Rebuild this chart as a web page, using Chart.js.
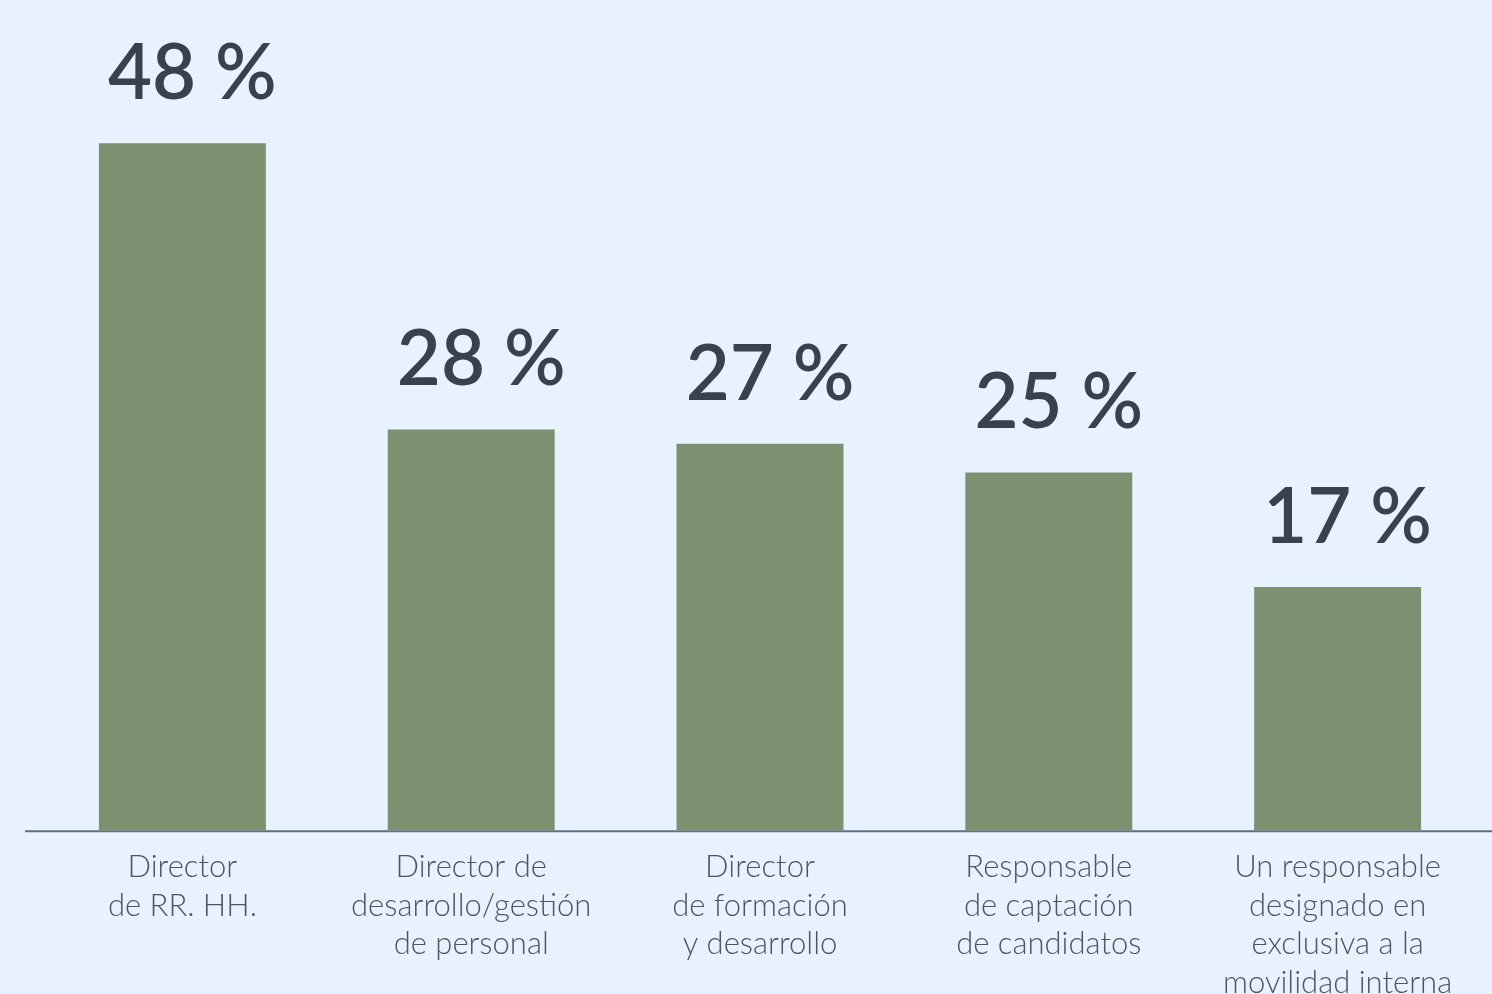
<!DOCTYPE html>
<html>
<head>
    <title>Responsables de movilidad interna</title>
    <script src="https://cdn.jsdelivr.net/npm/chart.js"></script>
    <style>
        html, body {
            margin: 0;
            padding: 0;
            background: #e8f2fe;
            overflow: hidden;
        }
        canvas {
            display: block;
        }
    </style>
</head>
<body>
    <canvas id="barChart" width="1492" height="1012"></canvas>

    <script>
        // chart data
        const categories = [
            ['Director', 'de RR. HH.'],
            ['Director de', 'desarrollo/gestión', 'de personal'],
            ['Director', 'de formación', 'y desarrollo'],
            ['Responsable', 'de captación', 'de candidatos'],
            ['Un responsable', 'designado en', 'exclusiva a la', 'movilidad interna']
        ];
        const percentages = [48, 28, 27, 25, 17];
        const valueLabels = ['48 %', '28 %', '27 %', '25 %', '17 %'];

        // baseline across the full width + big percentage above each bar
        const valueLabelPlugin = {
            id: 'valueLabels',
            afterDatasetsDraw(chart) {
                const ctx = chart.ctx;
                const meta = chart.getDatasetMeta(0);
                const y0 = chart.scales.y.getPixelForValue(0);
                ctx.save();
                ctx.strokeStyle = '#5f7080';
                ctx.lineWidth = 2;
                ctx.beginPath();
                ctx.moveTo(25, y0 + 1);
                ctx.lineTo(chart.width, y0 + 1);
                ctx.stroke();

                ctx.fillStyle = '#38424f';
                ctx.font = '600 76px Lato';
                ctx.textAlign = 'center';
                ctx.textBaseline = 'alphabetic';
                meta.data.forEach((bar, i) => {
                    ctx.fillText(valueLabels[i], bar.x + 10, bar.y - 44);
                });
                ctx.restore();
            }
        };

        const ctx = document.getElementById('barChart').getContext('2d');

        new Chart(ctx, {
            type: 'bar',
            data: {
                labels: categories,
                datasets: [{
                    data: percentages,
                    backgroundColor: '#7b9170',
                    borderWidth: 0,
                    categoryPercentage: 1.0,
                    barPercentage: 0.578
                }]
            },
            options: {
                responsive: false,
                animation: false,
                layout: {
                    padding: { left: 38, right: 10, top: 0, bottom: 0 }
                },
                plugins: {
                    legend: { display: false },
                    tooltip: { enabled: false }
                },
                scales: {
                    x: {
                        grid: { display: false },
                        border: { display: false },
                        ticks: {
                            color: '#4b5563',
                            padding: 10,
                            maxRotation: 0,
                            autoSkip: false,
                            font: { family: 'Lato', size: 31, weight: '300', lineHeight: 1.24 }
                        }
                    },
                    y: {
                        display: false,
                        min: 0,
                        max: 58
                    }
                }
            },
            plugins: [valueLabelPlugin]
        });
    </script>
</body>
</html>
